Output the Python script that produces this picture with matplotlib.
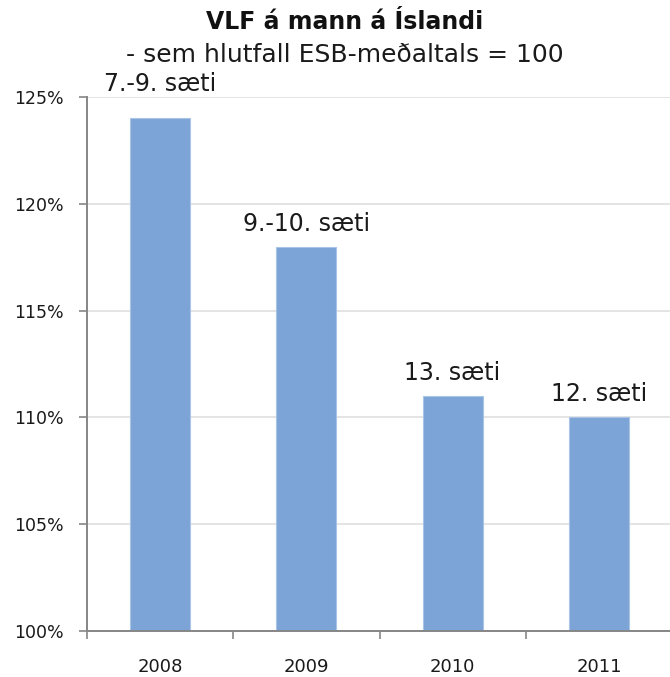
import matplotlib
matplotlib.use("Agg")
import matplotlib.pyplot as plt
import numpy as np

years = ["2008", "2009", "2010", "2011"]
values = [124, 118, 111, 110]
ranks = ["7.-9. sæti", "9.-10. sæti", "13. sæti", "12. sæti"]
yticks = [100, 105, 110, 115, 120, 125]
ytick_labels = ["100%", "105%", "110%", "115%", "120%", "125%"]

title = "VLF á mann á Íslandi"
subtitle = "- sem hlutfall ESB-meðaltals = 100"

bar_color = "#7CA4D6"
axis_gray = "#868686"
grid_gray = "#DCDCDC"

fig = plt.figure(figsize=(6.70, 6.77), dpi=100)
ax = fig.add_axes([87 / 670, 46 / 677, 585 / 670, 534 / 677])

x = np.arange(len(years))
bars = ax.bar(x, values, width=0.41, color=bar_color, edgecolor="#A9C4E6",
              linewidth=0.8, zorder=2)

ax.set_xlim(-0.5, len(years) - 0.5)
ax.set_ylim(100, 125)
ax.set_yticks(yticks)
ax.set_yticklabels(ytick_labels, fontsize=12.5, color="#1a1a1a")
ax.set_xticks(x)
ax.set_xticklabels(years, fontsize=13, color="#1a1a1a")
ax.set_xticks(np.arange(len(years) + 1) - 0.5, minor=True)

ax.tick_params(axis="x", which="major", length=0, pad=19.5)
ax.tick_params(axis="x", which="minor", length=6, width=1.2, color=axis_gray)
ax.tick_params(axis="y", length=6, width=1.2, color=axis_gray, pad=11)

ax.yaxis.grid(True, color=grid_gray, linewidth=1.1, zorder=0)
ax.set_axisbelow(True)

for s in ["top", "right"]:
    ax.spines[s].set_visible(False)
for s in ["left", "bottom"]:
    ax.spines[s].set_color(axis_gray)
    ax.spines[s].set_linewidth(1.4)

# label offsets in points; first one sits higher
offsets = [19.5, 11, 11.5, 11.5]
for xi, v, lab, off in zip(x, values, ranks, offsets):
    ax.annotate(lab, (xi, v), xytext=(0, off), textcoords="offset points",
                ha="center", va="baseline", fontsize=17, color="#1a1a1a",
                annotation_clip=False)

fig.text(345 / 670, 1 - 29 / 677, title, ha="center", va="baseline",
         fontsize=17, fontweight="bold", color="#111111")
fig.text(345 / 670, 1 - 62 / 677, subtitle, ha="center", va="baseline",
         fontsize=18, color="#1a1a1a")

fig.savefig("out.png", dpi=100)
